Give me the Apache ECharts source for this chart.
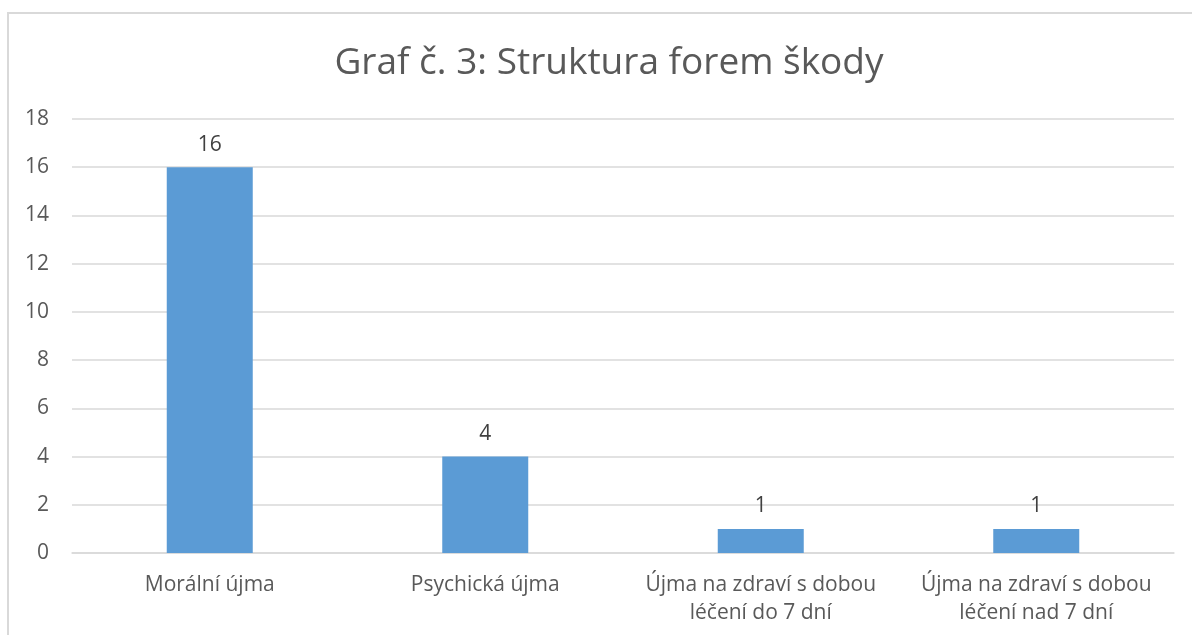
<!DOCTYPE html>
<html>
<head>
<meta charset="utf-8">
<script src="https://cdn.jsdelivr.net/npm/echarts@6/dist/echarts.min.js"></script>
<style>
html,body{margin:0;padding:0;background:#fff;}
#chart{width:1192px;height:635px;}
</style>
</head>
<body>
<div id="chart"></div>
<script>
var titleText = 'Graf č. 3: Struktura forem škody';
var categories = ['Morální újma', 'Psychická újma', 'Újma na zdraví s dobou\nléčení do 7 dní', 'Újma na zdraví s dobou\nléčení nad 7 dní'];
var values = [16, 4, 1, 1];
var yMin = 0, yMax = 18, yInterval = 2;

var chart = echarts.init(document.getElementById('chart'), null, {renderer: 'canvas'});
var font = '"Open Sans", "Noto Sans", sans-serif';
chart.setOption({
  backgroundColor: '#ffffff',
  animation: false,
  graphic: [{
    type: 'rect',
    shape: {x: 8, y: 13, width: 1220, height: 700},
    style: {fill: 'none', stroke: '#d9d9d9', lineWidth: 2},
    silent: true, z: -1
  }],
  title: {
    text: titleText,
    left: 604,
    top: 40,
    textAlign: 'center',
    textStyle: {fontFamily: font, fontSize: 37, fontWeight: 'normal', color: '#595959'}
  },
  grid: {left: 72, right: 18, top: 119, bottom: 82, containLabel: false},
  xAxis: {
    type: 'category',
    data: categories,
    axisLine: {show: true, lineStyle: {color: '#d9d9d9', width: 1.5}},
    axisTick: {show: false},
    axisLabel: {color: '#595959', fontFamily: font, fontSize: 21, margin: 18, lineHeight: 28, interval: 0}
  },
  yAxis: {
    type: 'value',
    min: yMin, max: yMax, interval: yInterval,
    axisLine: {show: false},
    axisTick: {show: false},
    splitLine: {lineStyle: {color: '#d9d9d9', width: 1.5}},
    axisLabel: {color: '#595959', fontFamily: font, fontSize: 21, margin: 23}
  },
  series: [{
    type: 'bar',
    data: values,
    barWidth: 86,
    itemStyle: {color: '#5b9bd5'},
    label: {show: true, position: 'top', distance: 12, color: '#404040', fontFamily: font, fontSize: 21}
  }]
});
</script>
</body>
</html>
